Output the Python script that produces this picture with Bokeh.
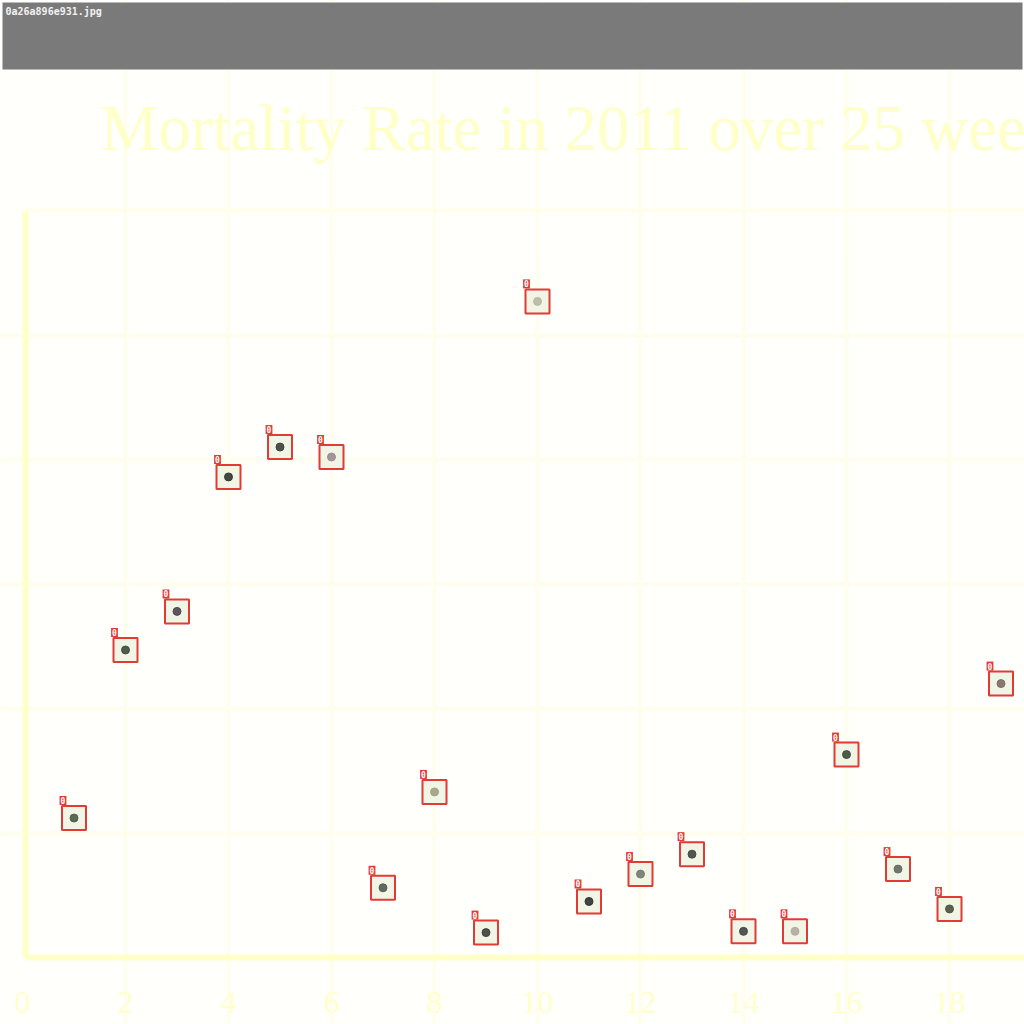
from bokeh.plotting import figure
from bokeh.models import Range1d, FixedTicker, Label, BoxAnnotation
from bokeh.embed import file_html
from bokeh.resources import INLINE
from bokeh.core.properties import value

# ---- data ----
title_text = "Mortality Rate in 2011 over 25 weeks"
file_name = "0a26a896e931.jpg"
weeks = [1, 2, 3, 4, 5, 6, 7, 8, 9, 10, 11, 12, 13, 14, 15, 16, 17, 18, 19]
rates = [1.12, 2.47, 2.78, 3.86, 4.10, 4.02, 0.56, 1.33, 0.20, 5.27,
         0.45, 0.67, 0.83, 0.21, 0.21, 1.63, 0.71, 0.39, 2.20]
detect_labels = ["0"] * len(weeks)
x_ticks = [0, 2, 4, 6, 8, 10, 12, 14, 16, 18]
y_grid = [1, 2, 3, 4, 5]
dot_colors = ["#4a5a44", "#3c4a3c", "#4a4550", "#2f3530", "#3a3f3a", "#9a8a90",
              "#505a50", "#a0a080", "#3a4038", "#b8b8a0", "#303030", "#707a70",
              "#404540", "#404440", "#b0a8a0", "#3a4a38", "#606860", "#4a5040", "#806868"]

# pixel <-> data mapping of the photographed chart
X0, XS = 22.0, 51.5
Y0, YS = 957.0, 124.5
def dx(px):
    return (px - X0) / XS
def dy(py):
    return (Y0 - py) / YS

p = figure(width=1024, height=1024, min_border=0, toolbar_location=None,
           output_backend="svg",
           x_range=Range1d(dx(0), dx(1024)), y_range=Range1d(dy(1024), dy(0)))
p.axis.visible = False
p.outline_line_color = None
p.background_fill_color = "#FFFFFC"
p.border_fill_color = "#FFFFFF"

p.xgrid.ticker = FixedTicker(ticks=x_ticks[1:] + [20])
p.ygrid.ticker = FixedTicker(ticks=y_grid)
p.xgrid.bounds = (dy(957), dy(210))
p.ygrid.bounds = (dx(25), dx(1100))
p.grid.grid_line_color = "#FFFEEE"
p.grid.grid_line_width = 4

# yellow frame
p.segment(x0=[dx(25), dx(25)], y0=[dy(957), dy(210)], x1=[dx(1024), dx(25)], y1=[dy(957), dy(957)],
          line_color="#FFFFC8", line_width=6)
p.segment(x0=[dx(25)], y0=[dy(210)], x1=[dx(1024)], y1=[dy(210)],
          line_color="#FFFEEA", line_width=4)

# x tick labels
p.text(x=x_ticks, y=[dy(1002)] * len(x_ticks), text=[str(t) for t in x_ticks],
       text_font=value("Liberation Serif"), text_font_size="32px",
       text_color="#FFFFCC", text_align="center", text_baseline="middle")

# title
p.add_layout(Label(x=dx(100), y=dy(127), text=title_text, text_font="Liberation Serif",
                   text_font_size="65px", text_color="#FFFFC8",
                   text_baseline="middle"))

# header bar
p.add_layout(BoxAnnotation(left=dx(2), right=dx(1022), top=dy(2), bottom=dy(69),
                           fill_color="#7A7A7A", fill_alpha=1.0, line_color=None))
p.add_layout(Label(x=dx(5), y=dy(11), text=file_name, text_font="DejaVu Sans Mono",
                   text_font_size="10px", text_font_style="bold", text_color="#F2F2F2",
                   text_baseline="middle"))

# detection boxes
p.rect(x=weeks, y=rates, width=24, height=24, width_units="screen", height_units="screen",
       fill_color="#F1F5E6", line_color="#E23A35", line_width=2)
p.scatter(x=weeks, y=rates, size=8, color=dot_colors, alpha=0.9)
p.text(x=weeks, y=rates, text=detect_labels, x_offset=-11, y_offset=-13,
       text_font=value("DejaVu Sans Mono"), text_font_size="8px", text_font_style="bold",
       text_color="white", text_align="center", text_baseline="bottom",
       background_fill_color="#E23A35", padding=1)

open("out.html", "w").write(file_html(p, INLINE))
